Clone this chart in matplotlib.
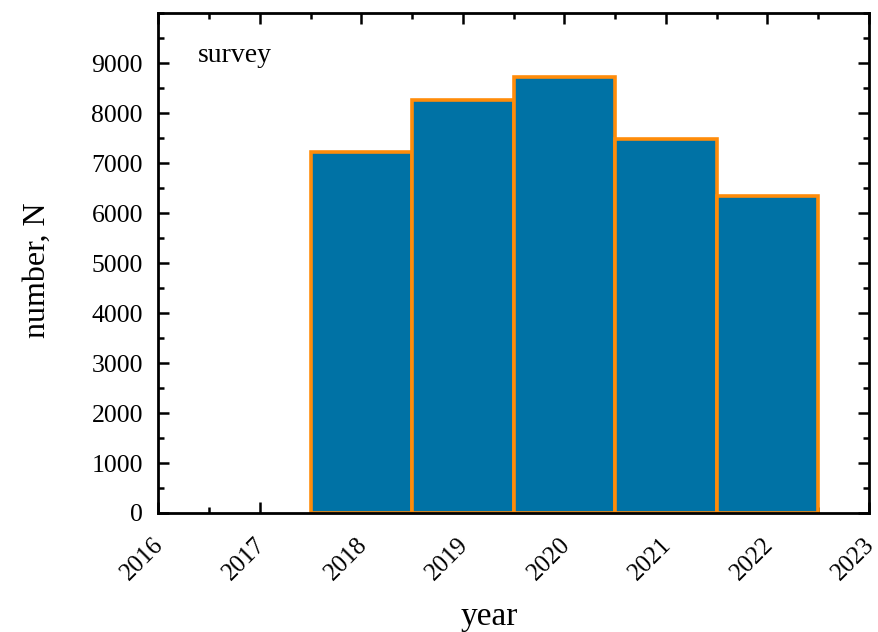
import matplotlib
matplotlib.use("Agg")
import matplotlib.pyplot as plt
import matplotlib.transforms as mtransforms
from matplotlib.ticker import MultipleLocator

years = [2018, 2019, 2020, 2021, 2022]
counts = [7220, 8260, 8730, 7490, 6340]
x_ticks = [2016, 2017, 2018, 2019, 2020, 2021, 2022, 2023]
y_ticks = [0, 1000, 2000, 3000, 4000, 5000, 6000, 7000, 8000, 9000]

plt.rcParams["font.family"] = ["Liberation Serif", "DejaVu Serif"]

fig = plt.figure(figsize=(8.79, 6.32), dpi=100)
ax = fig.add_axes([0.18, 0.1883, 0.8086, 0.7907])

ax.bar(years, counts, width=1.0, color="#0072A5", edgecolor="#FF8C0A",
       linewidth=2.6, zorder=2)

ax.set_xlim(2016, 2023)
ax.set_ylim(0, 10000)
ax.set_xticks(x_ticks)
ax.set_xticklabels([str(v) for v in x_ticks], rotation=45, ha="right",
                   rotation_mode="anchor")
ax.set_yticks(y_ticks)
ax.xaxis.set_minor_locator(MultipleLocator(0.5))
ax.yaxis.set_minor_locator(MultipleLocator(500))

ax.tick_params(which="both", direction="in", top=True, right=True,
               width=1.8, colors="black")
ax.tick_params(which="major", length=8)
ax.tick_params(which="minor", length=4.5)
ax.tick_params(axis="x", which="major", labelsize=18, pad=15)
ax.tick_params(axis="y", which="major", labelsize=18.5, pad=11)
for s in ax.spines.values():
    s.set_linewidth(2.0)
    s.set_zorder(3)

# nudge the rotated year labels slightly left of their ticks
shift = mtransforms.ScaledTranslation(-4 / 72, 0, fig.dpi_scale_trans)
for lbl in ax.get_xticklabels():
    lbl.set_transform(lbl.get_transform() + shift)

ax.set_xlabel("year", fontsize=24, va="baseline")
ax.xaxis.set_label_coords(0.466, -0.224)
ax.set_ylabel("number, N", fontsize=23, va="center")
ax.yaxis.set_label_coords(-0.1695, 0.485)
ax.text(0.056, 0.902, "survey", transform=ax.transAxes, fontsize=20,
        va="baseline", ha="left")

fig.savefig("out.png", dpi=100)
